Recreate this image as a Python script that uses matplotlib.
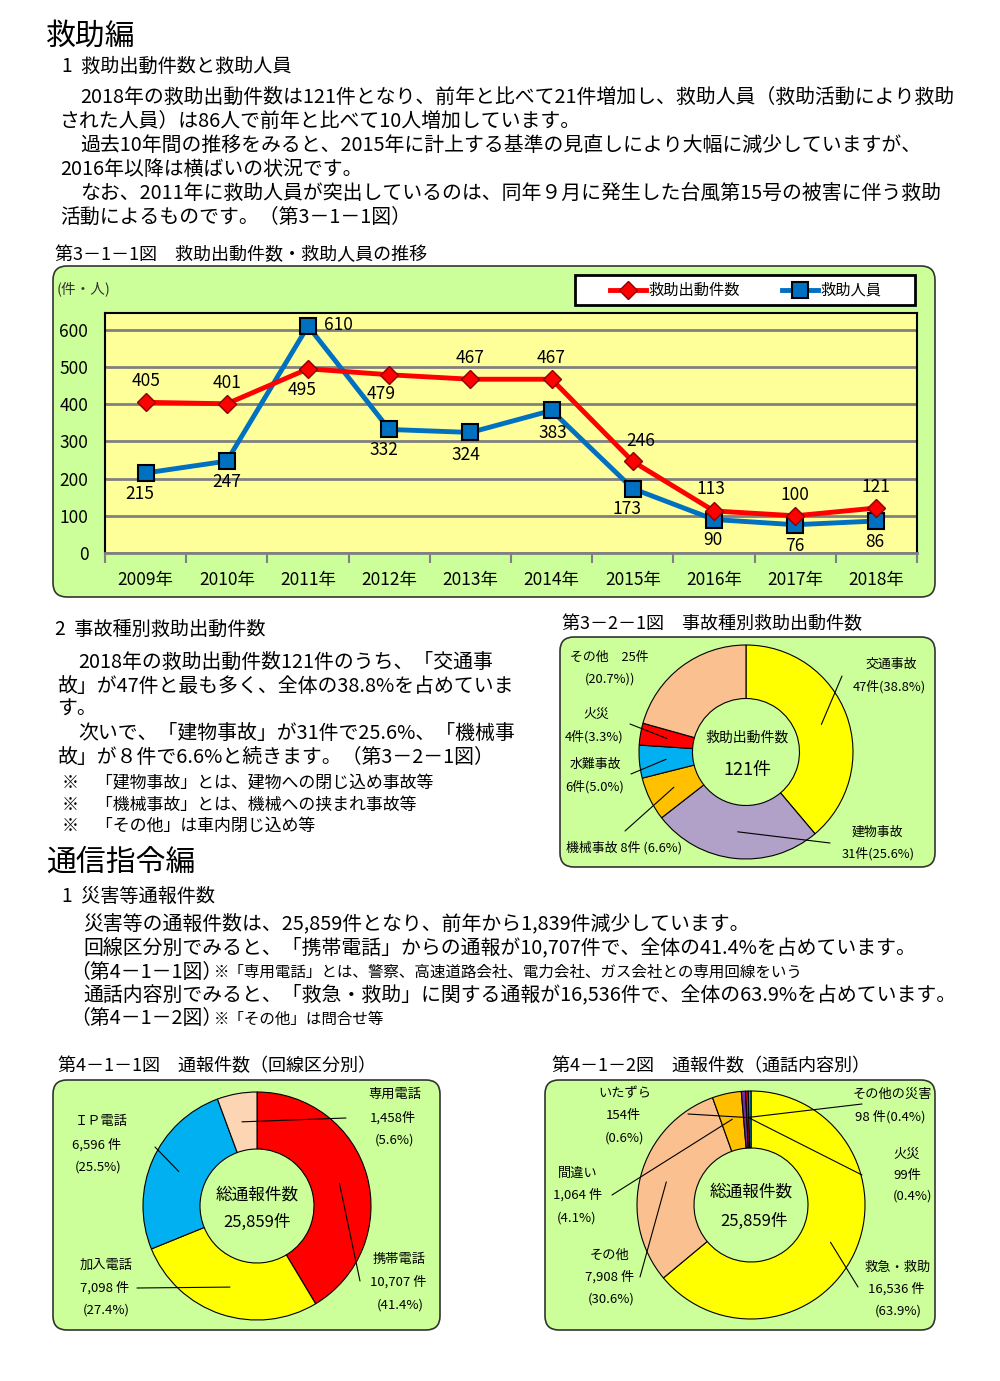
import numpy as np
import matplotlib
matplotlib.use('Agg')
from matplotlib import pyplot as plt
from matplotlib.patches import FancyBboxPatch, Rectangle

plt.rcParams['font.family'] = ['Noto Sans CJK JP', 'DejaVu Sans']

W, H = 1000, 1381

# --- data -------------------------------------------------------------
years = ['2009年', '2010年', '2011年', '2012年', '2013年',
         '2014年', '2015年', '2016年', '2017年', '2018年']
dispatches = [405, 401, 495, 479, 467, 467, 246, 113, 100, 121]
rescued = [215, 247, 610, 332, 324, 383, 173, 90, 76, 86]
series_names = ['救助出動件数', '救助人員']

acc_names = ['交通事故', '建物事故', '機械事故', '水難事故', '火災', 'その他']
acc_counts = [47, 31, 8, 6, 4, 25]
acc_pct = [38.8, 25.6, 6.6, 5.0, 3.3, 20.7]

line_names = ['携帯電話', '加入電話', 'ＩＰ電話', '専用電話']
line_counts = [10707, 7098, 6596, 1458]
line_pct = [41.4, 27.4, 25.5, 5.6]

call_names = ['救急・救助', 'その他', '間違い', 'いたずら', '火災', 'その他の災害']
call_counts = [16536, 7908, 1064, 154, 99, 98]
call_pct = [63.9, 30.6, 4.1, 0.6, 0.4, 0.4]

GREEN = '#CCFF99'
RED = '#FF0000'
BLUE = '#0070C0'

fig = plt.figure(figsize=(W / 100, H / 100), dpi=100)
bg = fig.add_axes([0, 0, 1, 1])
bg.set_xlim(0, W)
bg.set_ylim(H, 0)
bg.axis('off')


def put(x, y, s, size, **kw):
    kw.setdefault('va', 'center')
    return bg.text(x, y, s, fontsize=size, **kw)


def panel(x, y, w, h):
    bg.add_patch(FancyBboxPatch((x, y), w, h,
                 boxstyle='round,pad=0,rounding_size=14',
                 fc=GREEN, ec='#333333', lw=1.2))


def pix_axes(x, y, w, h):
    return fig.add_axes([x / W, 1 - (y + h) / H, w / W, h / H])


# --- page text ---------------------------------------------------------
put(46, 36, '救助編', 21.5)
put(62, 66, '1  救助出動件数と救助人員', 13.8)
para1 = [
    (80, 97, '2018年の救助出動件数は121件となり、前年と比べて21件増加し、救助人員（救助活動により救助'),
    (60, 121, 'された人員）は86人で前年と比べて10人増加しています。'),
    (80, 145, '過去10年間の推移をみると、2015年に計上する基準の見直しにより大幅に減少していますが、'),
    (60, 169, '2016年以降は横ばいの状況です。'),
    (80, 193, 'なお、2011年に救助人員が突出しているのは、同年９月に発生した台風第15号の被害に伴う救助'),
    (60, 217, '活動によるものです。（第3－1－1図）'),
]
for x, y, s in para1:
    put(x, y, s, 14.3)
put(55, 255, '第3－1－1図　救助出動件数・救助人員の推移', 13)

put(55, 629, '2  事故種別救助出動件数', 13.8)
para2 = [
    (78, 662, '2018年の救助出動件数121件のうち、「交通事'),
    (57, 686, '故」が47件と最も多く、全体の38.8%を占めていま'),
    (57, 709, 'す。'),
    (78, 733, '次いで、「建物事故」が31件で25.6%、「機械事'),
    (57, 757, '故」が８件で6.6%と続きます。（第3－2－1図）'),
]
for x, y, s in para2:
    put(x, y, s, 14.3)
for y, s in [(783, '※　「建物事故」とは、建物への閉じ込め事故等'),
             (805, '※　「機械事故」とは、機械への挟まれ事故等'),
             (826, '※　「その他」は車内閉じ込め等')]:
    put(62, y, s, 12.2)
put(562, 624, '第3－2－1図　事故種別救助出動件数', 13)

put(46, 862, '通信指令編', 21.5)
put(62, 896, '1  災害等通報件数', 13.8)
put(83, 924, '災害等の通報件数は、25,859件となり、前年から1,839件減少しています。', 14.3)
put(83, 948, '回線区分別でみると、「携帯電話」からの通報が10,707件で、全体の41.4%を占めています。', 14.3)
put(70, 972, '（第4－1－1図）', 14.3)
put(214, 972, '※「専用電話」とは、警察、高速道路会社、電力会社、ガス会社との専用回線をいう', 11.2)
put(83, 995, '通話内容別でみると、「救急・救助」に関する通報が16,536件で、全体の63.9%を占めています。', 14.3)
put(70, 1019, '（第4－1－2図）', 14.3)
put(214, 1019, '※「その他」は問合せ等', 11.2)
put(58, 1066, '第4－1－1図　通報件数（回線区分別）', 13)
put(552, 1066, '第4－1－2図　通報件数（通話内容別）', 13)

# --- line chart ----------------------------------------------------------
panel(53, 266, 882, 331)
ax = pix_axes(105, 313, 812, 240)
ax.set_facecolor('#FFFF99')
x = np.arange(len(years))
ax.set_xlim(-0.5, len(years) - 0.5)
ax.set_ylim(0, 645)
ax.set_yticks(range(0, 601, 100))
ax.grid(axis='y', color='#808080', lw=2)
ax.set_axisbelow(True)
ax.set_xticks(x)
ax.set_xticklabels(years, fontsize=12.5)
ax.set_xticks(np.arange(-0.5, len(years)), minor=True)
ax.tick_params(axis='x', which='major', length=0, pad=13)
ax.tick_params(axis='x', which='minor', length=7, color='#808080', width=1.5)
ax.tick_params(axis='y', length=0, pad=12, labelsize=12.5)
for side in ['top', 'right', 'left']:
    ax.spines[side].set_color('black')
    ax.spines[side].set_linewidth(1.5)
ax.spines['bottom'].set_color('#808080')
ax.spines['bottom'].set_linewidth(2)

red_style = dict(color=RED, lw=3.5, marker='D', ms=9, mfc=RED, mec='#8B0000', mew=1)
blue_style = dict(color=BLUE, lw=3.5, marker='s', ms=11, mfc=BLUE, mec='black', mew=1.5)
ax.plot(x, rescued, zorder=3, **blue_style)
ax.plot(x, dispatches, zorder=4, **red_style)

red_off = [(0, 15), (0, 15), (-4, -15), (-6, -14), (0, 15), (0, 15), (6, 15), (-2, 16), (0, 15), (0, 15)]
blue_off = [(-4, -15), (0, -15), (22, 1), (-4, -15), (-3, -16), (1, -16), (-4, -15), (-1, -15), (0, -15), (-1, -15)]
for xi, v, off in zip(x, dispatches, red_off):
    ax.annotate(str(v), (xi, v), xytext=off, textcoords='offset points',
                ha='center', va='center', fontsize=12.5, annotation_clip=False)
for xi, v, off in zip(x, rescued, blue_off):
    ax.annotate(str(v), (xi, v), xytext=off, textcoords='offset points',
                ha='center', va='center', fontsize=12.5, annotation_clip=False)

put(57, 289, '(件・人)', 10.5, color='#333333')

# legend box
bg.add_patch(Rectangle((575, 275), 340, 30, fc='white', ec='black', lw=2, zorder=5))
for (lx, tx), name, st in zip([(610, 648), (782, 820)], series_names, [red_style, blue_style]):
    bg.plot([lx, lx + 18, lx + 36], [290, 290, 290], markevery=[1], zorder=6, **st)
    put(tx, 290, name, 11, zorder=6)


# --- donuts ------------------------------------------------------------
def donut(cx, cy, r, counts, colors):
    a = pix_axes(cx - r, cy - r, 2 * r, 2 * r)
    wedges, _ = a.pie(counts, colors=colors, startangle=90, counterclock=False,
                      radius=1, wedgeprops=dict(width=0.5, edgecolor='black', lw=0.8))
    a.set_xlim(-1, 1)
    a.set_ylim(-1, 1)
    return a, wedges


def leader(a, wedge, end, rr=0.75):
    ang = np.deg2rad((wedge.theta1 + wedge.theta2) / 2)
    a.annotate('', xy=(rr * np.cos(ang), rr * np.sin(ang)), xytext=end,
               textcoords=bg.transData,
               arrowprops=dict(arrowstyle='-', color='black', lw=0.8,
                               shrinkA=0, shrinkB=0))


# 第3-2-1図
panel(560, 637, 375, 230)
a2, w2 = donut(746, 752, 107, acc_counts,
               ['#FFFF00', '#B1A0C7', '#FFC000', '#00B0F0', '#FF0000', '#FAC090'])
put(747, 738, '救助出動件数', 10, ha='center')
put(747, 770, f'{sum(acc_counts)}件', 13, ha='center')
acc_layout = [
    ([(865, 664, '{name}'), (853, 687, '{n}件({p}%)')], (842, 676)),
    ([(852, 832, '{name}'), (842, 854, '{n}件({p}%)')], (830, 843)),
    ([(566, 848, '{name} {n}件 ({p}%)')], (625, 831)),
    ([(570, 764, '{name}'), (565, 787, '{n}件({p}%)')], (631, 774)),
    ([(583, 714, '{name}'), (565, 737, '{n}件({p}%)')], (630, 724)),
    ([(570, 657, '{name}　{n}件'), (585, 679, '({p}%))')], None),
]
for i, (texts, end) in enumerate(acc_layout):
    for tx, ty, fmt in texts:
        put(tx, ty, fmt.format(name=acc_names[i], n=acc_counts[i], p=acc_pct[i]), 9.3)
    if end:
        leader(a2, w2[i], end)

# 第4-1-1図
panel(53, 1080, 387, 250)
a3, w3 = donut(257, 1206, 114, line_counts,
               ['#FF0000', '#FFFF00', '#00B0F0', '#FCD5B4'])
put(257, 1195, '総通報件数', 12, ha='center')
put(257, 1222, f'{sum(line_counts):,}件', 12, ha='center')
line_layout = [
    ([(373, 1259, '{name}'), (370, 1282, '{n:,} 件'), (377, 1305, '({p}%)')], (360, 1281)),
    ([(80, 1265, '{name}'), (80, 1288, '{n:,} 件'), (83, 1310, '({p}%)')], (137, 1288)),
    ([(75, 1122, '{name}'), (72, 1145, '{n:,} 件'), (75, 1167, '({p}%)')], (155, 1147)),
    ([(368, 1094, '{name}'), (370, 1118, '{n:,}件'), (375, 1140, '({p}%)')], (346, 1118)),
]
for i, (texts, end) in enumerate(line_layout):
    for tx, ty, fmt in texts:
        put(tx, ty, fmt.format(name=line_names[i], n=line_counts[i], p=line_pct[i]), 9.5)
    leader(a3, w3[i], end)

# 第4-1-2図
panel(545, 1080, 390, 250)
a4, w4 = donut(751, 1205, 114, call_counts,
               ['#FFFF00', '#FAC090', '#FFC000', '#7030A0', '#FF0000', '#00B0F0'])
put(751, 1192, '総通報件数', 12, ha='center')
put(754, 1221, f'{sum(call_counts):,}件', 12, ha='center')
call_layout = [
    ([(865, 1267, '{name}'), (868, 1289, '{n:,} 件'), (875, 1311, '({p}%)')], (858, 1287)),
    ([(590, 1255, '{name}'), (585, 1277, '{n:,} 件'), (588, 1299, '({p}%)')], (640, 1277)),
    ([(558, 1173, '{name}'), (553, 1195, '{n:,} 件'), (557, 1218, '({p}%)')], (612, 1195)),
    ([(598, 1094, '{name}'), (606, 1116, '{n}件'), (605, 1138, '({p}%)')], (688, 1114)),
    ([(893, 1154, '{name}'), (893, 1175, '{n}件'), (893, 1196, '({p}%)')], (862, 1175)),
    ([(853, 1094, '{name}'), (855, 1117, '{n} 件({p}%)')], (862, 1104)),
]
for i, (texts, end) in enumerate(call_layout):
    for tx, ty, fmt in texts:
        put(tx, ty, fmt.format(name=call_names[i], n=call_counts[i], p=call_pct[i]), 9.5)
    leader(a4, w4[i], end, rr=0.77)

fig.savefig('out.png', dpi=100)
